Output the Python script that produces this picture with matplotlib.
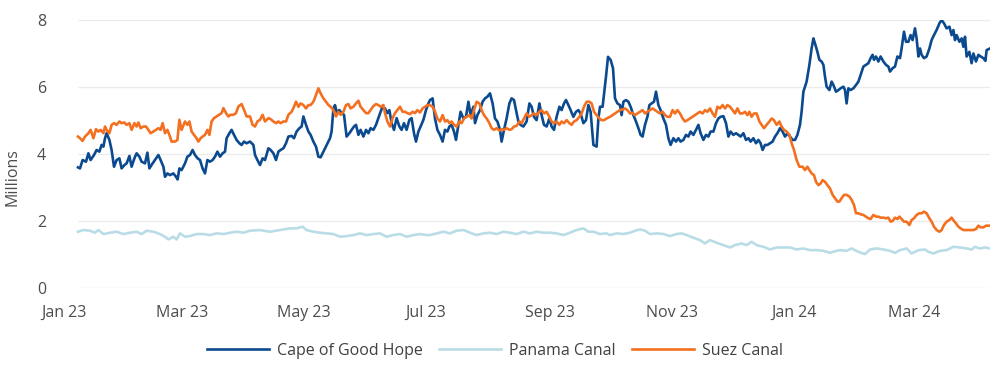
import matplotlib
matplotlib.use('Agg')
import matplotlib.pyplot as plt
import matplotlib.dates as mdates
import numpy as np
import pandas as pd

plt.rcParams['font.family'] = ['Open Sans', 'DejaVu Sans']

# days counted from the first observation (8 Jan 2023), values in millions
start = pd.Timestamp('2023-01-08')

cape_day = [0, 1, 2.3, 4, 5.2, 6.3, 8, 9.3, 10.7, 11.8, 12.7, 13.5, 14.3, 15.7, 16.8, 18, 19.3, 20.7, 21.8, 23.2,
            24.3, 25.7, 26.8, 28.2, 29.3, 30.7, 31.8, 33.5, 34.7, 35.7, 37.3, 39, 40.2, 41.3, 42.7, 43.5, 44.7, 46,
            47.7, 49, 49.8, 50.7, 51.8, 53.5, 54.7, 56, 57.3, 58.5, 59.8, 61, 62.3, 63.5, 64.7, 66, 67.3, 68.5, 69.7,
            71, 72.3, 73.5, 74.3, 75.7, 76.8, 78, 79.3, 80.7, 81.8, 83, 84.3, 86,
            87.7, 88.5, 89.7, 91, 92.3, 93.5, 95.2, 96.3, 97.7, 99, 100.2, 101.3, 102.7, 104, 105.2, 106.8, 108,
            109.3, 110.7, 111.8, 112.7, 114, 115.2, 116.3, 117.7, 119, 120.2, 121.3, 122.7, 124.3, 126, 126.8,
            127.7, 128.5, 129.3, 130.7, 131.8, 133, 134.3, 135.7, 136.8, 138, 139, 140.2, 141.3, 142.7, 144, 145.2,
            146.3, 147.7, 149, 150.2, 151.3, 152.3, 153.5, 154.7, 155.7, 156.8, 158, 159.3, 160.7, 161.8, 163,
            164.3, 165.7, 166.8, 168, 169, 170.2, 171.3, 172.7, 174, 175.2,
            176, 177.3, 178.5, 179.7, 181, 182.3, 183.5, 184.7, 185.7, 186.8, 188, 189, 190.2, 191.3, 192.7, 194,
            195.2, 196.3, 197.7, 198.5, 199.7, 201, 202.3, 203.5, 204.7, 206, 207.3, 208.5, 209.7, 211, 211.8, 213,
            214.3, 215.7, 216.8, 218, 219, 220.2, 221.3, 222.7, 224.3, 225.7, 226.8, 228, 229.3, 230.7, 231.8, 233,
            234.3, 235.7, 236.8, 238, 239.3, 240.7, 241.8, 243, 244, 245.2, 246.3, 247.7, 249, 250.2, 251.3, 252.7,
            254, 255.2, 256.3, 257.7, 259.3, 260.2, 261, 262.3, 264, 265, 266.3, 267.5, 268.5, 269.7,
            271, 271.8, 272.7, 274, 275.2, 276.3, 277.7, 279, 280.2, 281.3, 282.3, 283.5, 284.7, 285.7, 286.8, 288,
            289, 290.2, 291.3, 292.7, 294, 295.2, 296.3, 297.7, 299, 300.2, 301.3, 302.7, 304, 305.2, 306.3, 307.7,
            309, 310.2, 311.3, 312.7, 314, 315.2, 316.3, 317.7, 319, 320.2, 321.3, 322.7, 324, 325.2, 326.3, 327.7,
            329, 330.2, 331.3, 332.7, 334, 335.2, 336.3, 337.7, 339, 340.2, 341.3, 342.3, 343.5, 344.7, 346, 347.3,
            348.5, 349.7, 351, 352.3, 353.5, 354.7, 356, 357.3, 358.5, 359.7, 361,
            361.8, 362.7, 363.5, 364.3, 365.7, 366.8, 367.7, 368.5, 369.7, 370.7, 371.8, 372.7, 373.5, 374.3, 375.7,
            376.8, 377.7, 379, 380.2, 381.3, 382.7, 383.5, 384.3, 385.2, 386.3, 387.7, 389, 390.2, 391.3, 392.7, 394,
            395.2, 396.3, 397.3, 398, 399, 400.2, 401.3, 402.7, 404, 405.2, 406, 407.3, 408.5, 409.7, 411, 411.8, 413,
            414, 415.2, 416.3, 417.3, 418.5, 419.3, 420.2, 421, 421.8, 423, 424.3, 425.7, 426.8, 428, 429.3, 430.7,
            431.8, 433, 434.3, 435.7, 436.8, 437.7, 438.5, 439.3, 440.7, 441.8, 442.7, 443.5, 444.3, 445.7, 446.8,
            447.7, 449, 450.2, 451.3, 452.7, 453.7, 454.3, 456]
cape_val = [3.60, 3.57, 3.82, 3.77, 4.02, 3.82, 3.97, 4.12, 4.07, 4.27, 4.22, 4.47, 4.62, 4.42, 4.12, 3.62, 3.82, 3.87,
            3.57, 3.67, 3.72, 3.94, 3.62, 3.87, 4.02, 3.92, 3.77, 3.72, 4.04, 3.57, 3.72, 3.87, 3.97, 3.82, 3.62, 3.32,
            3.42, 3.37, 3.42, 3.32, 3.24, 3.57, 3.52, 3.72, 3.92, 3.97, 4.12, 3.97, 3.87, 3.82, 3.57, 3.42, 3.82, 3.77,
            3.82, 3.92, 4.07, 3.92, 4.02, 4.07, 4.47, 4.62, 4.72, 4.57, 4.42, 4.32, 4.27, 4.37, 4.32, 4.37,
            4.27, 3.97, 3.82, 3.67, 3.87, 3.82, 4.17, 4.12, 4.02, 3.82, 4.07, 4.12, 4.17, 4.32, 4.52, 4.54, 4.47,
            4.67, 4.77, 4.82, 5.12, 4.87, 4.67, 4.57, 4.37, 4.22, 3.92, 3.90, 4.07, 4.27, 4.47, 4.67,
            5.36, 5.46, 5.26, 5.31, 5.22, 5.17, 4.52, 4.62, 4.72, 4.82, 4.87, 4.57, 4.72, 4.52, 4.72, 4.62,
            4.77, 4.72, 4.87, 5.07, 5.26, 5.41, 5.36, 5.22, 5.31, 4.92, 4.72, 5.07, 4.82, 4.72, 4.92,
            4.72, 5.02, 5.07, 4.62, 4.37, 4.67, 4.82, 5.02, 5.31, 5.51,
            5.61, 5.66, 5.06, 4.72, 4.57, 4.37, 4.72, 4.67, 4.82, 4.87, 4.67, 4.42, 4.87, 5.26, 5.06, 5.11,
            5.56, 5.16, 5.41, 4.92, 5.16, 5.31, 5.56, 5.66, 5.71, 5.81, 5.51, 5.06, 4.97, 4.72, 4.37, 4.72,
            5.06, 5.51, 5.66, 5.61, 5.31, 4.97, 4.87, 4.82, 4.97, 5.51, 5.41, 5.11, 5.01, 5.51, 5.16, 4.87,
            4.82, 5.06, 4.82, 4.72, 5.11, 5.41, 5.31, 5.51, 5.61, 5.46, 5.31, 5.11, 5.26, 5.31, 5.21, 4.92,
            5.01, 5.46, 5.26, 4.27, 4.22, 5.06, 5.41, 5.41, 6.31, 6.90, 6.81, 6.56, 5.66, 5.51,
            5.46, 5.16, 5.56, 5.61, 5.56, 5.41, 5.16, 4.97, 4.77, 4.57, 4.52, 4.87, 5.11, 5.46, 5.51, 5.56,
            5.86, 5.46, 5.31, 5.06, 4.87, 4.47, 4.27, 4.47, 4.37, 4.47, 4.37, 4.42, 4.57, 4.52, 4.67, 4.57,
            4.72, 4.87, 4.62, 4.42, 4.57, 4.52, 4.67, 4.67, 4.92, 5.06, 5.11, 5.13, 4.92, 4.52, 4.67, 4.57,
            4.62, 4.57, 4.52, 4.62, 4.42, 4.47, 4.37, 4.47, 4.32, 4.42, 4.32, 4.12, 4.27, 4.27, 4.32, 4.37,
            4.52, 4.62, 4.77, 4.67, 4.52, 4.62, 4.52, 4.42, 4.42, 4.57, 4.87,
            5.26, 5.86, 6.01, 6.16, 6.66, 7.15, 7.45, 7.30, 7.05, 6.81, 6.76, 6.66, 6.31, 6.01, 5.91,
            6.16, 6.06, 5.86, 5.91, 5.96, 6.01, 5.91, 5.51, 5.96, 5.91, 5.96, 6.06, 6.16, 6.36, 6.61, 6.66,
            6.71, 6.86, 6.96, 6.81, 6.91, 6.76, 6.91, 6.76, 6.66, 6.61, 6.46, 6.56, 6.61, 6.91, 6.86, 7.15, 7.65,
            7.35, 7.35, 7.55, 7.40, 7.75, 7.45, 6.91, 7.15, 6.96, 6.86, 6.91, 7.15, 7.40, 7.55, 7.70, 7.90,
            8.00, 7.90, 7.75, 7.80, 7.55, 7.70, 7.40, 7.55, 7.35, 7.45, 7.20, 7.50, 6.91, 7.05, 6.71,
            7.00, 6.76, 6.96, 6.91, 6.86, 6.78, 7.10, 7.15]

panama_day = [0, 2.7, 6, 8.5, 10.2, 12.7, 16, 19.3, 22.7, 26, 29.3, 31.8, 34.3, 37.7, 41, 43.5, 45.2, 47.7, 49.3, 51,
              53.5, 56, 59.3, 62.7, 66, 69.3, 72.7, 76, 79.3, 82.7, 86,
              91, 96, 101, 106, 109.3, 112.3, 114.3, 117.7, 121, 124.3, 127.7, 131, 134.3, 137.7, 141, 144.3, 147.7,
              151, 154.3, 157.7, 161, 164.3, 167.7, 171, 174.3,
              176, 179.3, 182.7, 186, 189.3, 192.7, 196, 199.3, 202.7, 206, 209.3, 212.7, 216, 219.3, 222.7, 226,
              229.3, 232.7, 236, 239.3, 242.7, 246, 249.3, 252.7, 255.2, 257.7, 261, 264.3,
              266, 269.3, 272.7, 276, 278.5, 281, 283.5, 286, 289.3, 292.7, 296, 299.3, 301.8, 304.3,
              307.7, 311, 313.5, 316, 319.3, 322.7, 326, 328.5, 331.8, 334.3, 336.8, 339.3, 342.7, 346, 349.3, 352.7,
              356, 359.3, 362.7, 366, 369.3, 372.7, 376, 379.3,
              381, 384.3, 386.8, 390.2, 393.5, 396, 399.3, 402.7, 406, 408.5, 411, 414.3, 416.8, 420.2, 423.5, 425.2,
              427.7, 431, 434.3, 437.7, 441, 444.3, 446.8, 448.5, 451, 453.5, 456]
panama_val = [1.68, 1.73, 1.71, 1.65, 1.73, 1.61, 1.65, 1.68, 1.61, 1.65, 1.68, 1.61, 1.71, 1.68, 1.61, 1.53, 1.45,
              1.53, 1.45, 1.63, 1.53, 1.55, 1.61, 1.61, 1.58, 1.63, 1.61, 1.65, 1.68, 1.65, 1.71,
              1.73, 1.68, 1.73, 1.78, 1.78, 1.83, 1.73, 1.68, 1.65, 1.63, 1.61, 1.53, 1.55, 1.58, 1.63, 1.58, 1.61,
              1.63, 1.53, 1.58, 1.61, 1.53, 1.58, 1.61, 1.58,
              1.58, 1.63, 1.68, 1.63, 1.71, 1.73, 1.65, 1.58, 1.63, 1.65, 1.61, 1.68, 1.65, 1.61, 1.68, 1.63,
              1.68, 1.65, 1.65, 1.63, 1.58, 1.65, 1.73, 1.78, 1.68, 1.68, 1.61, 1.63,
              1.58, 1.63, 1.61, 1.65, 1.71, 1.75, 1.71, 1.61, 1.63, 1.61, 1.55, 1.61, 1.63, 1.58,
              1.50, 1.43, 1.33, 1.43, 1.35, 1.28, 1.21, 1.28, 1.33, 1.28, 1.38, 1.28, 1.23, 1.15, 1.21, 1.21,
              1.21, 1.15, 1.18, 1.13, 1.13, 1.11, 1.05, 1.11,
              1.13, 1.11, 1.18, 1.08, 1.01, 1.15, 1.18, 1.15, 1.11, 1.05, 1.13, 1.18, 1.03, 1.13, 1.15, 1.08,
              1.03, 1.11, 1.13, 1.23, 1.21, 1.18, 1.15, 1.23, 1.18, 1.21, 1.18]

suez_day = [0, 1, 2.3, 3.5, 5.2, 6.3, 7.7, 9, 10.2, 11.3, 12.7, 13.5, 14.3, 15.7, 16.8, 18, 19.3, 20.7, 21.8, 23.2,
            24.3, 25.7, 26.8, 28.2, 29.3, 30.2, 31.3, 32.7, 34, 35.2, 36.3, 37.7, 39, 40.2, 41.3, 42.3, 43.5, 44.7,
            45.7, 46.8, 48.5, 49.7, 50.7, 51.8, 53.5, 54.7, 55.7, 56.8, 58, 59.3, 60.2, 61.3, 62.3, 63.5, 64.7, 65.7,
            66.8, 68, 69.3, 70.7, 71.8, 72.7, 74, 75.2, 76.3, 77.7, 79, 80.2, 81.8, 83, 84.3,
            86, 87.3, 88.5, 89.7, 91, 92.3, 93.5, 95.2, 96.3, 97.7, 99, 100.2, 101.3, 102.7, 104, 105.2, 106.8, 108,
            109, 110.2, 111.3, 112.7, 114, 115.2, 116.3, 117.7, 119, 120.2, 121.3, 122.7, 124, 125.2, 126.3, 127.7,
            129, 130.2, 131.3, 132.7, 134, 135.2, 136.3, 137.7, 139, 140.2, 141.3, 142.7, 144, 145.2, 146.3, 147.7,
            149, 150.2, 151.3, 152.7, 153.5, 154.7, 156, 157.3, 158.5, 159.7, 161, 162.3, 163.5, 164.7, 166, 167.3,
            168.5, 169.7, 171, 172.3, 173.5, 174.7,
            176, 177.3, 178.5, 179.7, 181, 182.3, 183.5, 184.7, 185.7, 186.8, 188, 189.3, 190.7, 191.8, 193, 194.3,
            195.7, 196.8, 198, 199.3, 200.7, 201.8, 203, 204.3, 205.7, 206.8, 208, 209.3, 210.7, 211.8, 213, 214.3,
            215.7, 216.8, 218, 219.3, 220.7, 221.8, 223, 224.3, 225.7, 226.8, 228, 229.3, 230.7, 231.8, 233, 234.3,
            235.7, 236.8, 238, 239.3, 240.7, 241.8, 243, 244.3, 245.7, 246.8, 248, 249.3, 250.7, 251.8, 253, 254.3,
            255.7, 256.8, 258, 259.3, 260.7, 261.8, 263, 264.3,
            266, 267.3, 268.5, 269.7, 271, 272.3, 273.5, 274.7, 276, 277.3, 278.5, 279.7, 281, 282.3, 283.5, 284.7,
            286, 287.3, 288.5, 289.7, 291, 292.3, 293.5, 294.7, 296, 297.3, 298.5, 299.7, 301, 302.3, 303.5, 304.7,
            306, 307.3, 308.5, 309.7, 311, 312.3, 313.5, 314.7, 316, 317.3, 318.5, 319.7, 321, 322.3, 323.5, 324.7,
            326, 327.3, 328.5, 329.7, 331, 332.3, 333.5, 334.7, 335.7, 336.8, 338, 339.3, 340.7, 341.8, 343, 344.3,
            345.7, 346.8, 348, 349.3, 350.7, 351.8, 353, 354.3, 355.7, 356.8, 358, 359.3, 360.7,
            362.3, 363.5, 364.7, 365.7, 366.8, 368, 369, 370.2, 371.3, 372.3, 373.5, 374.7, 376, 377.3, 378.5, 379.7,
            380.7, 381.8, 383, 384.3, 385.7, 386.8, 388, 389, 390.2, 391.3, 392.7, 394, 395.2, 396.3, 397.7, 399,
            400.2, 401.3, 402.7, 404, 405.2, 406.3, 407.3, 408.5, 409.7, 410.7, 411.8, 413, 414.3, 415.7, 416.8, 418,
            419.3, 420.7, 421.8, 423, 424.3, 425.7, 426.8, 428, 429.3, 430.7, 431.8, 433, 434.3, 435.7, 436.8, 438,
            439, 440.2, 441.3, 442.7, 444.3, 446, 447.7, 449, 450.2, 451.3, 452.7, 454, 455.2, 456]
suez_val = [4.52, 4.47, 4.39, 4.52, 4.62, 4.72, 4.47, 4.74, 4.67, 4.72, 4.62, 4.82, 4.72, 4.62, 4.87, 4.92, 4.87, 4.97,
            4.92, 4.94, 4.87, 4.92, 4.72, 4.92, 4.82, 4.94, 4.77, 4.82, 4.82, 4.72, 4.62, 4.67, 4.72, 4.77, 4.72, 4.92,
            4.62, 4.72, 4.57, 4.37, 4.37, 4.42, 5.02, 4.72, 4.97, 4.87, 4.97, 4.67, 4.57, 4.47, 4.37, 4.47, 4.52, 4.57,
            4.72, 4.57, 4.97, 5.07, 5.12, 5.17, 5.22, 5.37, 5.22, 5.12, 5.17, 5.17, 5.22, 5.42, 5.49, 5.32, 5.12,
            5.12, 4.87, 4.82, 4.97, 5.02, 5.17, 4.97, 5.07, 5.04, 4.97, 4.92, 4.97, 4.92, 4.97, 4.97, 5.17, 5.26, 5.41,
            5.56, 5.41, 5.51, 5.46, 5.36, 5.46, 5.46, 5.56, 5.76, 5.96, 5.81, 5.66, 5.56, 5.46, 5.41, 5.31,
            5.12, 5.26, 5.17, 5.26, 5.46, 5.49, 5.36, 5.41, 5.51, 5.59, 5.41, 5.31, 5.22, 5.22, 5.31, 5.43,
            5.49, 5.46, 5.41, 5.46, 5.22, 4.97, 4.82, 5.07, 5.22, 5.31, 5.41, 5.26, 5.26, 5.22, 5.19, 5.26,
            5.22, 5.31, 5.24, 5.36, 5.41, 5.46,
            5.46, 5.41, 5.26, 5.06, 4.97, 5.16, 4.97, 5.01, 4.92, 4.97, 4.87, 4.82, 4.97, 4.92, 5.06, 5.11,
            5.16, 5.06, 5.31, 5.56, 5.51, 5.31, 5.16, 5.06, 4.92, 4.77, 4.72, 4.77, 4.70, 4.74, 4.72, 4.77,
            4.72, 4.74, 4.82, 4.84, 4.97, 4.92, 5.06, 5.21, 5.11, 5.16, 5.21, 5.16, 5.26, 5.31, 5.21, 5.26,
            5.11, 4.97, 4.92, 4.97, 4.87, 4.97, 4.92, 5.01, 4.92, 4.87, 4.97, 5.01, 5.11, 5.21, 5.41, 5.56,
            5.56, 5.51, 5.26, 5.16, 5.06, 5.01, 5.01, 5.06,
            5.11, 5.16, 5.21, 5.26, 5.31, 5.33, 5.36, 5.31, 5.21, 5.23, 5.16, 5.21, 5.26, 5.31, 5.21, 5.26,
            5.31, 5.36, 5.31, 5.26, 5.21, 5.26, 5.16, 5.11, 5.11, 5.31, 5.21, 5.31, 5.21, 5.06, 4.97, 5.01,
            5.06, 5.11, 5.16, 5.21, 5.26, 5.21, 5.31, 5.26, 5.36, 5.21, 5.11, 5.41, 5.36, 5.46, 5.36, 5.46,
            5.41, 5.31, 5.21, 5.36, 5.21, 5.21, 5.26, 5.16, 5.26, 5.11, 5.21, 5.21, 4.97, 4.87, 4.77, 4.87,
            4.97, 5.06, 5.01, 4.87, 4.97, 4.82, 4.72, 4.67, 4.57, 4.32, 4.12, 3.82, 3.62,
            3.62, 3.52, 3.62, 3.52, 3.42, 3.37, 3.17, 3.07, 3.12, 3.22, 3.17, 3.07, 2.97, 2.78, 2.68, 2.58,
            2.58, 2.68, 2.78, 2.78, 2.73, 2.63, 2.48, 2.23, 2.23, 2.20, 2.18, 2.13, 2.08, 2.06, 2.18, 2.13,
            2.13, 2.10, 2.10, 2.08, 2.10, 1.98, 2.00, 2.10, 2.06, 2.13, 2.06, 1.98, 1.98, 1.88, 2.03, 2.08,
            2.18, 2.23, 2.23, 2.28, 2.23, 2.08, 1.98, 1.83, 1.73, 1.68, 1.73, 1.88, 1.98, 2.03, 2.10, 2.00,
            1.93, 1.83, 1.78, 1.73, 1.73, 1.73, 1.73, 1.76, 1.86, 1.81, 1.81, 1.86, 1.86, 1.86]

y_ticks = [0, 2, 4, 6, 8]


def to_dates(days):
    return start + pd.to_timedelta(np.array(days), unit='D')


fig = plt.figure(figsize=(10, 3.68), dpi=100)
ax = fig.add_axes([0.064, 0.2174, 0.926, 0.7283])

# light grid only under the data span
ax.hlines(y_ticks, to_dates([0])[0], to_dates([456])[0], color='#ececec', lw=1, zorder=0)

ax.plot(to_dates(cape_day), cape_val, color='#0b4a8f', lw=1.9, label='Cape of Good Hope')
ax.plot(to_dates(panama_day), panama_val, color='#b9dce7', lw=1.9, label='Panama Canal')
ax.plot(to_dates(suez_day), suez_val, color='#f37021', lw=1.9, label='Suez Canal')

ax.set_xlim(pd.Timestamp('2023-01-01'), to_dates([456])[0])
ax.set_ylim(0, 8)
ax.set_yticks(y_ticks)
ax.xaxis.set_major_locator(mdates.MonthLocator(bymonth=[1, 3, 5, 7, 9, 11]))
ax.xaxis.set_major_formatter(mdates.DateFormatter('%b %y'))
ax.tick_params(axis='both', length=0, labelsize=11.5, labelcolor='#4d4d4d')
ax.tick_params(axis='x', pad=12)
ax.tick_params(axis='y', pad=13)
for s in ax.spines.values():
    s.set_visible(False)

fig.text(0.012, 0.52, 'Millions', rotation=90, ha='center', va='center', fontsize=11.5, color='#4d4d4d')

leg = fig.legend(loc='center', bbox_to_anchor=(0.495, 0.046), ncol=3, frameon=False, fontsize=11.5,
                 handlelength=3.9, handletextpad=0.5, columnspacing=1.0)
for t in leg.get_texts():
    t.set_color('#404040')

fig.savefig('out.png', dpi=100)
